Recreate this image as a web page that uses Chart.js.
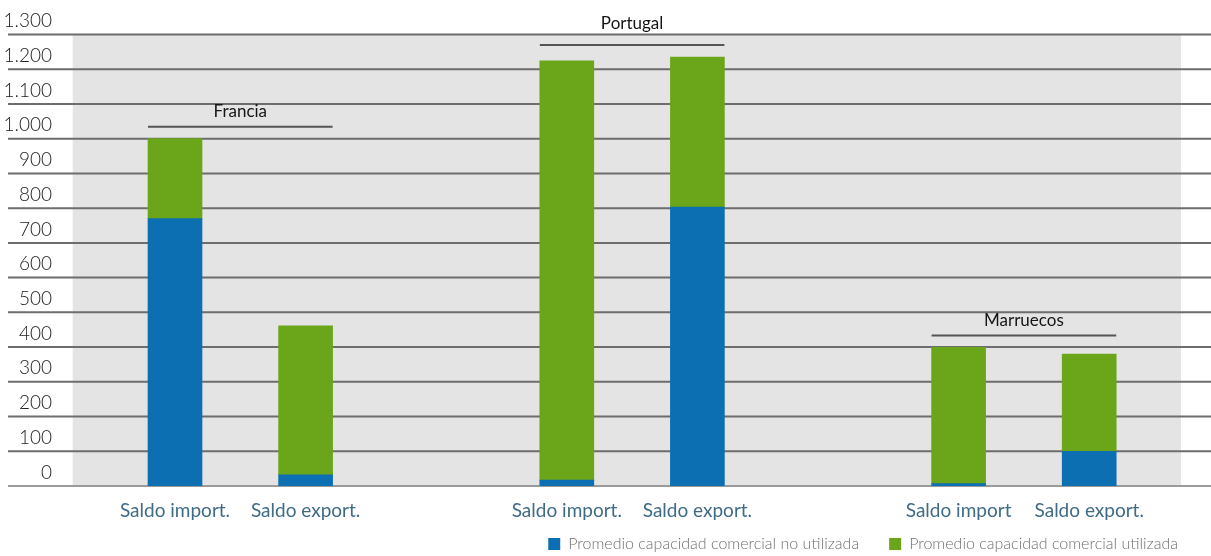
<!DOCTYPE html>
<html><head><meta charset="utf-8">
<script src="https://cdn.jsdelivr.net/npm/chart.js@4"></script>
<style>html,body{margin:0;padding:0;background:#fff;}</style>
</head><body>
<canvas id="c" width="1211" height="556"></canvas>
<script>
const categories = ['Saldo import.', 'Saldo export.', '', 'Saldo import.', 'Saldo export.', '', 'Saldo import', 'Saldo export.'];
const groups = ['Francia', 'Portugal', 'Marruecos'];
const noUtilizada = [770, 32, null, 17, 803, null, 7, 100];
const utilizada = [230, 429, null, 1207, 432, null, 392, 280];
const yTickLabels = ['0','100','200','300','400','500','600','700','800','900','1.000','1.100','1.200','1.300'];
const seriesNames = ['Promedio capacidad comercial no utilizada', 'Promedio capacidad comercial utilizada'];

const FONT = 'Lato, "Open Sans", sans-serif';

const bgGrid = {
  id: 'bgGrid',
  beforeDatasetsDraw(chart) {
    const {ctx, chartArea: a, scales: {y}} = chart;
    ctx.save();
    ctx.fillStyle = '#e4e4e4';
    ctx.fillRect(a.left - 37, a.top, (a.right + 26.5) - (a.left - 37), a.bottom - a.top);
    y.ticks.forEach(t => {
      const py = y.getPixelForValue(t.value);
      ctx.strokeStyle = t.value === 0 ? '#9b9b9b' : '#6d6d6d';
      ctx.lineWidth = 2;
      ctx.beginPath();
      ctx.moveTo(8, py);
      ctx.lineTo(chart.width, py);
      ctx.stroke();
    });
    ctx.restore();
  }
};

const legendShift = {
  id: 'legendShift',
  afterLayout(chart) {
    const l = chart.legend;
    if (l) { l.top -= 20; l.bottom -= 20; }
  }
};

const groupLabels = {
  id: 'groupLabels',
  afterDatasetsDraw(chart) {
    const {ctx, chartArea: a} = chart;
    const runs = [];
    let cur = [];
    categories.forEach((c, i) => {
      if (c === '') { if (cur.length) runs.push(cur); cur = []; }
      else cur.push(i);
    });
    if (cur.length) runs.push(cur);
    const top = chart.getDatasetMeta(1).data;
    ctx.save();
    runs.forEach((idx, g) => {
      const e0 = top[idx[0]], e1 = top[idx[idx.length - 1]];
      const left = e0.x - e0.width / 2, right = e1.x + e1.width / 2;
      const yTop = Math.min(...idx.map(i => top[i].y));
      const ly = yTop - 12;
      ctx.strokeStyle = '#555';
      ctx.lineWidth = 2;
      ctx.beginPath();
      ctx.moveTo(left, ly);
      ctx.lineTo(right, ly);
      ctx.stroke();
      let ty = ly - 15;
      if (ty + 8 > a.top && ty - 8 < a.top) ty = a.top - 11;
      ctx.fillStyle = '#151515';
      ctx.font = '17px ' + FONT;
      ctx.textAlign = 'center';
      ctx.textBaseline = 'middle';
      ctx.fillText(groups[g], (left + right) / 2, ty);
    });
    ctx.restore();
  }
};

new Chart(document.getElementById('c'), {
  type: 'bar',
  data: {
    labels: categories,
    datasets: [
      { label: seriesNames[0], data: noUtilizada, backgroundColor: '#0b6fb1', barThickness: 54 },
      { label: seriesNames[1], data: utilizada, backgroundColor: '#6ba519', barThickness: 54 }
    ]
  },
  options: {
    responsive: false,
    animation: false,
    layout: { padding: { top: 34.5, right: 3, bottom: -26, left: 0 } },
    plugins: {
      tooltip: { enabled: false },
      legend: {
        position: 'bottom',
        align: 'end',
        labels: {
          boxWidth: 12, boxHeight: 12, padding: 30,
          color: '#707070',
          font: { family: FONT, size: 16, weight: 300 }
        }
      }
    },
    scales: {
      x: {
        stacked: true,
        grid: { display: false, drawTicks: false },
        border: { display: false },
        ticks: {
          color: '#3f6b87', padding: 13, maxRotation: 0, autoSkip: false,
          font: { family: FONT, size: 19 }
        },
        afterFit: s => { s.height = 40; }
      },
      y: {
        stacked: true,
        min: 0, max: 1300,
        grid: { display: false, drawTicks: true, tickLength: 57.7 },
        border: { display: false },
        ticks: {
          stepSize: 100, labelOffset: -13.5, padding: 0,
          color: '#222', font: { family: FONT, size: 19, weight: 300 },
          callback: (v, i) => yTickLabels[i]
        },
        afterFit: s => { s.width = 109.7; }
      },
      y2: {
        position: 'right', min: 0, max: 1,
        grid: { display: false, drawTicks: false },
        border: { display: false },
        ticks: { display: false },
        afterFit: s => { s.width = 53.5; }
      }
    }
  },
  plugins: [bgGrid, legendShift, groupLabels]
});
</script>
</body></html>
